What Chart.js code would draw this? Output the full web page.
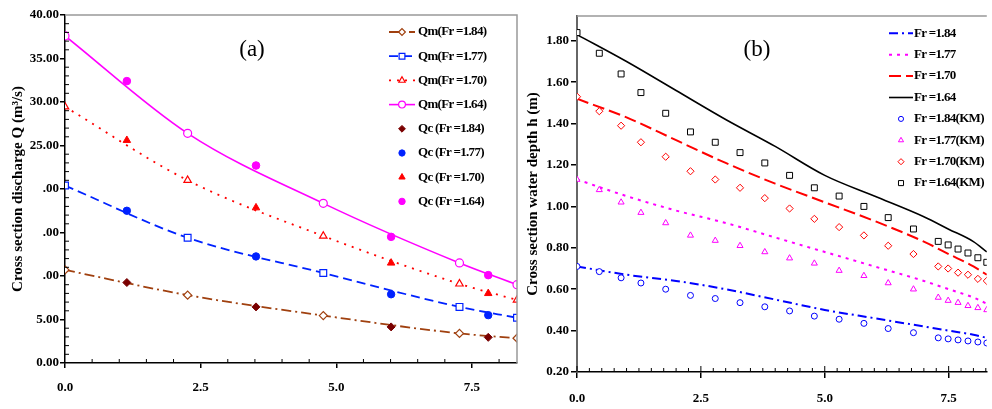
<!DOCTYPE html>
<html>
<head>
<meta charset="utf-8">
<script src="https://cdn.jsdelivr.net/npm/chart.js@4.4.1/dist/chart.umd.min.js"></script>
<style>
html,body{margin:0;padding:0;background:#fff;width:992px;height:409px;overflow:hidden;}
.box{position:absolute;top:0;height:409px;}
#boxA{left:0;width:525px;}
#boxB{left:515px;width:477px;}
</style>
</head>
<body>
<div class="box" id="boxA"><canvas id="chartA"></canvas></div>
<div class="box" id="boxB"><canvas id="chartB"></canvas></div>
<script>
const SERIF = '"Liberation Serif", "Times New Roman", serif';

// panel (a): discharge along the section
const qmX = [0, 2.26, 4.76, 7.27, 8.33];
const qcX = [1.14, 3.52, 6.01, 7.80];
const qm184 = [10.7, 7.8, 5.45, 3.4, 2.85];
const qm177 = [20.4, 14.4, 10.35, 6.45, 5.2];
const qm170 = [29.45, 21.0, 14.6, 9.1, 7.25];
const qm164 = [37.6, 26.4, 18.35, 11.5, 9.0];
const qc184 = [9.25, 6.45, 4.15, 2.95];
const qc177 = [17.5, 12.25, 7.9, 5.5];
const qc170 = [25.6, 17.85, 11.5, 8.0];
const qc164 = [32.4, 22.7, 14.5, 10.1];
const yTicksA = [0, 5, 10, 15, 20, 25, 30, 35, 40];
const yLabelsA = ['0.00', '5.00', '.00', '.00', '.00', '25.00', '30.00', '35.00', '40.00'];

// panel (b): water depth along the section
const fitX = [0, 1, 2, 3, 4, 5, 6, 7, 7.5, 8, 8.27];
const fit184 = [0.71, 0.67, 0.64, 0.60, 0.55, 0.50, 0.46, 0.42, 0.40, 0.38, 0.365];
const fit177 = [1.13, 1.05, 0.98, 0.92, 0.85, 0.78, 0.71, 0.64, 0.60, 0.56, 0.53];
const fit170 = [1.52, 1.43, 1.32, 1.21, 1.11, 1.02, 0.93, 0.83, 0.77, 0.71, 0.67];
const fit164 = [1.83, 1.70, 1.56, 1.42, 1.29, 1.15, 1.05, 0.95, 0.89, 0.83, 0.78];
const kmX = [0, 0.45, 0.89, 1.29, 1.79, 2.29, 2.79, 3.29, 3.79, 4.29, 4.79, 5.29, 5.79, 6.28, 6.79, 7.29, 7.49, 7.69, 7.89, 8.09, 8.27];
const km184 = [0.71, 0.685, 0.655, 0.63, 0.60, 0.57, 0.555, 0.535, 0.515, 0.495, 0.47, 0.455, 0.435, 0.41, 0.39, 0.365, 0.36, 0.355, 0.35, 0.345, 0.34];
const km177 = [1.13, 1.08, 1.02, 0.97, 0.92, 0.86, 0.835, 0.81, 0.78, 0.75, 0.725, 0.69, 0.665, 0.63, 0.60, 0.56, 0.545, 0.535, 0.52, 0.51, 0.50];
const km170 = [1.53, 1.46, 1.39, 1.31, 1.24, 1.17, 1.13, 1.09, 1.04, 0.99, 0.94, 0.90, 0.86, 0.81, 0.77, 0.71, 0.70, 0.68, 0.67, 0.65, 0.64];
const km164 = [1.84, 1.74, 1.64, 1.55, 1.45, 1.36, 1.31, 1.26, 1.21, 1.15, 1.09, 1.05, 1.0, 0.946, 0.891, 0.831, 0.814, 0.794, 0.775, 0.752, 0.73];

const xy = (xs, ys) => xs.map((x, i) => ({x, y: ys[i]}));

// line + open markers
function lineSet(label, xs, ys, color, dash, style, r, w) {
  return {label, data: xy(xs, ys), showLine: true, borderColor: color, borderWidth: w || 1.8,
    borderDash: dash, cubicInterpolationMode: 'monotone', pointStyle: style, pointRadius: r,
    pointHoverRadius: r, pointBorderColor: color, pointBackgroundColor: '#fff', pointBorderWidth: 1.2, order: 1};
}
// markers only
function dotSet(label, xs, ys, color, fillCol, style, r) {
  return {label, data: xy(xs, ys), showLine: false, borderColor: color, pointStyle: style,
    pointRadius: r, pointHoverRadius: r, pointBorderColor: color, pointBackgroundColor: fillCol,
    pointBorderWidth: 1, order: 0};
}

// frame, minor ticks, panel tag and legend
const deco = {
  id: 'deco',
  afterDraw(chart, args, o) {
    const {ctx, chartArea: a, scales: {x, y}} = chart;
    ctx.save();
    ctx.strokeStyle = '#999'; ctx.lineWidth = 1.5;
    ctx.beginPath();
    ctx.moveTo(a.left, a.top); ctx.lineTo(a.right, a.top);
    if (o.rightFrame) ctx.lineTo(a.right, a.bottom);
    ctx.stroke();

    ctx.strokeStyle = '#000'; ctx.lineWidth = 1;
    ctx.beginPath();
    for (let i = 0; i * o.xMinor <= x.max; i++) {
      const v = i * o.xMinor, px = x.getPixelForValue(v);
      const major = Math.abs(v / 2.5 - Math.round(v / 2.5)) < 1e-6;
      if (major && !o.majorInside) continue;
      ctx.moveTo(px, a.bottom); ctx.lineTo(px, a.bottom - (major ? 6 : 4));
    }
    if (o.yMinor) {
      for (let i = 0; i * o.yMinor <= y.max; i++) {
        const v = i * o.yMinor;
        if (v % 5 === 0) continue;
        const py = y.getPixelForValue(v);
        ctx.moveTo(a.left, py); ctx.lineTo(a.left + 4, py);
      }
    }
    ctx.stroke();

    ctx.fillStyle = '#000';
    ctx.font = '23px ' + SERIF;
    ctx.textAlign = 'center'; ctx.textBaseline = 'middle';
    ctx.fillText(o.tag, o.tagX, o.tagY);

    const L = o.legend;
    ctx.font = 'bold 13px ' + SERIF;
    ctx.letterSpacing = '-0.7px';
    ctx.textAlign = 'left';
    chart.data.datasets.forEach((ds, i) => {
      const yy = L.y + i * L.step;
      if (ds.showLine) {
        ctx.beginPath();
        ctx.setLineDash(ds.borderDash || []);
        ctx.strokeStyle = ds.borderColor; ctx.lineWidth = ds.borderWidth;
        ctx.moveTo(L.x0, yy); ctx.lineTo(L.x1, yy); ctx.stroke();
        ctx.setLineDash([]);
      }
      if (ds.pointRadius > 0) {
        ctx.fillStyle = ds.pointBackgroundColor; ctx.strokeStyle = ds.pointBorderColor;
        ctx.lineWidth = ds.pointBorderWidth;
        Chart.helpers.drawPoint(ctx, {pointStyle: ds.pointStyle, rotation: 0, radius: ds.pointRadius * 0.85,
          borderWidth: ds.pointBorderWidth}, (L.x0 + L.x1) / 2, yy);
      }
      ctx.fillStyle = '#000';
      ctx.fillText(ds.label, L.tx, yy);
    });
    ctx.restore();
  }
};

const tickFont = {family: SERIF, weight: 'bold', size: 13};
const titleFont = {family: SERIF, weight: 'bold', size: 15};

new Chart(document.getElementById('chartA'), {
  type: 'scatter',
  data: {
    datasets: [
      lineSet('Qm(Fr =1.84)', qmX, qm184, '#a0400f', [10, 4, 2, 4], 'rectRot', 4),
      lineSet('Qm(Fr =1.77)', qmX, qm177, '#0022ff', [9, 5], 'rect', 4.8),
      lineSet('Qm(Fr =1.70)', qmX, qm170, '#ff0000', [2, 6], 'triangle', 4.3),
      lineSet('Qm(Fr =1.64)', qmX, qm164, '#ff00ff', [], 'circle', 4, 1.6),
      dotSet('Qc (Fr =1.84)', qcX, qc184, '#7a0000', '#7a0000', 'rectRot', 4),
      dotSet('Qc (Fr =1.77)', qcX, qc177, '#0022ff', '#0022ff', 'circle', 3.7),
      dotSet('Qc (Fr =1.70)', qcX, qc170, '#ff0000', '#ff0000', 'triangle', 4.3),
      dotSet('Qc (Fr =1.64)', qcX, qc164, '#ff00ff', '#ff00ff', 'circle', 3.8)
    ]
  },
  options: {
    responsive: true, maintainAspectRatio: false, animation: false, devicePixelRatio: 1,
    layout: {padding: {top: 15, right: 8, left: 0, bottom: 0}},
    plugins: {
      legend: {display: false}, tooltip: {enabled: false},
      deco: {rightFrame: true, xMinor: 0.5, yMinor: 1, majorInside: false, tag: '(a)', tagX: 252, tagY: 50,
        legend: {x0: 389, x1: 415, tx: 418, y: 32, step: 24.2}}
    },
    scales: {
      x: {type: 'linear', min: 0, max: 8.33, afterFit: s => { s.height = 46; },
        ticks: {stepSize: 2.5, includeBounds: false, maxRotation: 0, padding: 12, color: '#000', font: tickFont,
          callback: v => v.toFixed(1)},
        grid: {drawOnChartArea: false, tickLength: 5, color: '#000', lineWidth: 1.5},
        border: {color: '#000', width: 1.5}},
      y: {type: 'linear', min: 0, max: 40, afterFit: s => { s.width = 65; },
        afterBuildTicks: s => { s.ticks = yTicksA.map(v => ({value: v})); },
        ticks: {padding: 1, color: '#000', font: tickFont,
          callback: v => yLabelsA[yTicksA.indexOf(v)]},
        grid: {drawOnChartArea: false, tickLength: 5, color: '#000', lineWidth: 1.5},
        border: {color: '#000', width: 1.5},
        title: {display: true, text: 'Cross section discharge Q (m³/s)', color: '#000', font: titleFont,
          padding: {top: 9, bottom: 0}}}
    }
  },
  plugins: [deco]
});

new Chart(document.getElementById('chartB'), {
  type: 'scatter',
  data: {
    datasets: [
      lineSet('Fr =1.84', fitX, fit184, '#0000ff', [9, 4, 2, 4], 'circle', 0, 2),
      lineSet('Fr =1.77', fitX, fit177, '#ff00ff', [3, 5], 'circle', 0, 2),
      lineSet('Fr =1.70', fitX, fit170, '#ff0000', [12, 5], 'circle', 0, 2),
      lineSet('Fr =1.64', fitX, fit164, '#000000', [], 'circle', 0, 1.6),
      dotSet('Fr =1.84(KM)', kmX, km184, '#0000ff', '#fff', 'circle', 3),
      dotSet('Fr =1.77(KM)', kmX, km177, '#ff00ff', '#fff', 'triangle', 3.5),
      dotSet('Fr =1.70(KM)', kmX, km170, '#ff0000', '#fff', 'rectRot', 3.6),
      dotSet('Fr =1.64(KM)', kmX, km164, '#000000', '#fff', 'rect', 4.2)
    ]
  },
  options: {
    responsive: true, maintainAspectRatio: false, animation: false, devicePixelRatio: 1,
    layout: {padding: {top: 16, right: 0, left: 0, bottom: 0}},
    plugins: {
      legend: {display: false}, tooltip: {enabled: false},
      deco: {rightFrame: false, xMinor: 0.25, yMinor: 0, majorInside: true, tag: '(b)', tagX: 242, tagY: 50,
        legend: {x0: 374, x1: 398, tx: 399, y: 33.3, step: 21.4}}
    },
    scales: {
      x: {type: 'linear', min: 0, max: 8.27, afterFit: s => { s.height = 37; },
        ticks: {stepSize: 2.5, includeBounds: false, maxRotation: 0, padding: 13, color: '#000', font: tickFont,
          callback: v => v.toFixed(1)},
        grid: {drawOnChartArea: false, tickLength: 6, color: '#000', lineWidth: 1.5},
        border: {color: '#000', width: 1.5}},
      y: {type: 'linear', min: 0.2, max: 1.92, afterFit: s => { s.width = 62; },
        ticks: {stepSize: 0.2, includeBounds: false, padding: 2, color: '#000', font: tickFont,
          callback: v => v.toFixed(2)},
        grid: {drawOnChartArea: false, tickLength: 6, color: '#000', lineWidth: 1.5},
        border: {color: '#666', width: 2},
        title: {display: true, text: 'Cross section water depth h (m)', color: '#000', font: titleFont,
          padding: {top: 9, bottom: 0}}}
    }
  },
  plugins: [deco]
});
</script>
</body>
</html>
